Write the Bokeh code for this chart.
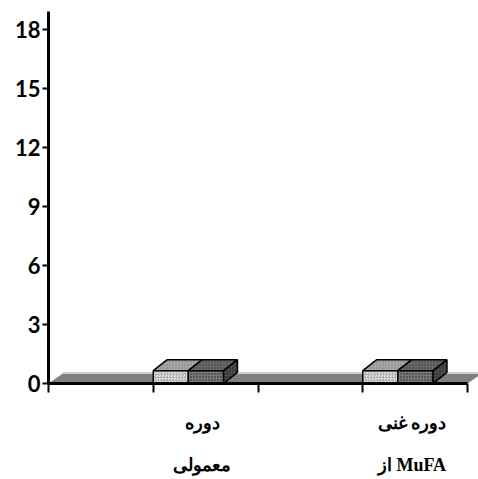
from bokeh.plotting import figure
from bokeh.models import Range1d, FixedTicker, LinearAxis
from bokeh.embed import file_html
from bokeh.resources import INLINE

# ---- data ----
categories_line1 = ["دوره", "دوره غنی"]
categories_line2 = ["معمولی", "از MuFA"]
series_a = [0.65, 0.65]
series_b = [0.65, 0.65]
y_ticks = [0, 3, 6, 9, 12, 15, 18]
x_ticks = [0, 1, 2, 3, 4]

# ---- styling constants ----
DX, DY = 0.134, 0.56      # 3D depth offset
W = 0.335                 # bar width
CAT_STEP = 2.0
CAT_START = 1.0
LABEL_SHIFT = 0.47

p = figure(width=478, height=479, output_backend="svg", toolbar_location=None,
           x_range=Range1d(0, 4.105), y_range=Range1d(0, 18.91),
           min_border_left=48, min_border_right=0, min_border_top=11,
           min_border_bottom=96, x_axis_type=None, y_axis_type=None)
p.outline_line_color = None
p.grid.visible = False
p.background_fill_color = "white"
p.border_fill_color = "white"

# y axis
ya = LinearAxis(ticker=FixedTicker(ticks=y_ticks))
ya.axis_line_width = 3
ya.axis_line_color = "black"
ya.major_tick_line_width = 2
ya.major_tick_out = 6
ya.major_tick_in = 0
ya.minor_tick_line_color = None
ya.major_label_standoff = 2
ya.major_label_text_font = "Lato"
ya.major_label_text_font_style = "bold"
ya.major_label_text_font_size = "22px"
ya.major_label_text_color = "black"
p.add_layout(ya, "left")

n_cat = len(series_a)
centers = [CAT_START + CAT_STEP * i + LABEL_SHIFT for i in range(n_cat)]

# x axis: line + boundary ticks (as minor ticks) + first label line
xa = LinearAxis(ticker=FixedTicker(ticks=centers, minor_ticks=x_ticks), bounds=(0, 4))
xa.axis_line_width = 3
xa.axis_line_color = "black"
xa.major_tick_line_color = None
xa.major_tick_out = 0
xa.major_tick_in = 0
xa.minor_tick_line_color = "black"
xa.minor_tick_line_width = 2
xa.minor_tick_out = 9
xa.minor_tick_in = 0
xa.major_label_overrides = {c: t for c, t in zip(centers, categories_line1)}
xa.major_label_standoff = 20
xa.major_label_text_font = "Liberation Serif"
xa.major_label_text_font_style = "bold"
xa.major_label_text_font_size = "18px"
xa.major_label_text_color = "black"
p.add_layout(xa, "below")

xb = LinearAxis(ticker=FixedTicker(ticks=centers))
xb.major_label_overrides = {c: t for c, t in zip(centers, categories_line2)}
xb.axis_line_color = None
xb.major_tick_line_color = None
xb.minor_tick_line_color = None
xb.major_tick_out = 0
xb.major_tick_in = 0
xb.major_label_standoff = 19
xb.major_label_text_font = "Liberation Serif"
xb.major_label_text_font_style = "bold"
xb.major_label_text_font_size = "18px"
xb.major_label_text_color = "black"
p.add_layout(xb, "below")

# floor
p.patch([0, 4, 4 + DX, DX], [0, 0, 0.5, 0.5], fill_color="#808080",
        line_color=None)
p.line([DX, 4 + DX], [0.55, 0.55], line_color="#c8c8c8", line_width=1.5)

# bars
for i in range(n_cat):
    x0 = CAT_START + CAT_STEP * i
    x1 = x0 + W
    va = series_a[i]
    vb = series_b[i]
    # side face of series b
    p.patch([x1 + W, x1 + W + DX, x1 + W + DX, x1 + W], [0, DY, vb + DY, vb],
            fill_color="#4a4a4a", line_color="black", line_width=1.5,
            hatch_pattern="dot", hatch_color="#222222", hatch_scale=3)
    # top faces
    p.patch([x0, x0 + W, x0 + W + DX, x0 + DX], [va, va, va + DY, va + DY],
            fill_color="#a8a8a8", line_color="black", line_width=1.5,
            hatch_pattern="dot", hatch_color="#777777", hatch_scale=3)
    p.patch([x1, x1 + W, x1 + W + DX, x1 + DX], [vb, vb, vb + DY, vb + DY],
            fill_color="#6a6a6a", line_color="black", line_width=1.5,
            hatch_pattern="dot", hatch_color="#333333", hatch_scale=3)
    # front faces
    p.quad(left=[x0], right=[x0 + W], bottom=[0], top=[va],
           fill_color="#f0f0f0", line_color="black", line_width=1.5,
           hatch_pattern="criss_cross", hatch_color="#b0b0b0", hatch_scale=3,
           hatch_weight=0.8)
    p.quad(left=[x1], right=[x1 + W], bottom=[0], top=[vb],
           fill_color="#7a7a7a", line_color="black", line_width=1.5,
           hatch_pattern="dot", hatch_color="#222222", hatch_scale=3)

open("out.html", "w").write(file_html(p, INLINE))
